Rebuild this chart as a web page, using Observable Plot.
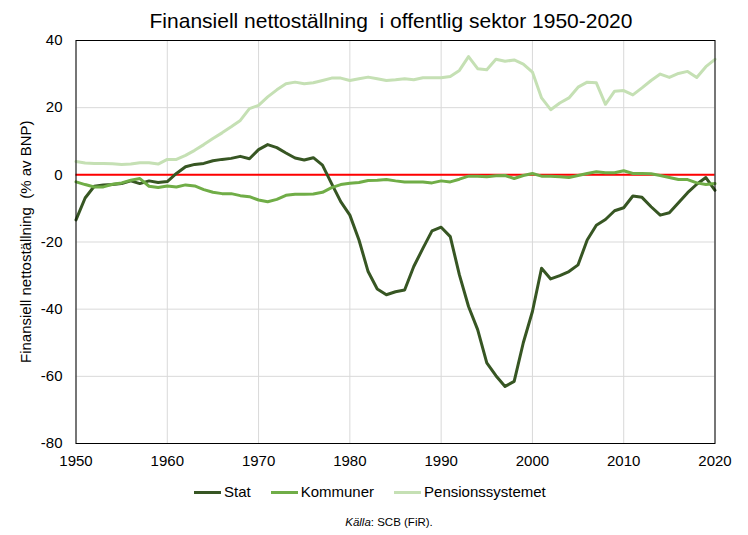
<!DOCTYPE html>
<html>
<head>
<meta charset="utf-8">
<script src="https://cdn.jsdelivr.net/npm/d3@7"></script>
<script src="https://cdn.jsdelivr.net/npm/@observablehq/plot@0.6"></script>
<style>
  html, body { margin: 0; padding: 0; background: #fff; }
  #wrap { position: relative; width: 748px; height: 535px; font-family: "Liberation Sans", Arial, sans-serif; color: #000; }
  #chart { position: absolute; left: 0; top: 0; }
  #title { position: absolute; left: 0; width: 782px; top: 9px; text-align: center; font-size: 21px; line-height: 24px; white-space: pre; }
  #ylabel { position: absolute; left: 0; top: 0; font-size: 15px; line-height: 18px; white-space: pre;
            transform-origin: 0 0; }
  #legend { position: absolute; left: 194px; top: 483px; display: flex; align-items: center; font-size: 15px; line-height: 18px; }
  .item { display: flex; align-items: center; margin-right: 20px; }
  .sw { width: 27px; height: 3px; margin-right: 3px; }
  #caption { position: absolute; left: 0; width: 778px; top: 515px; text-align: center; font-size: 11.5px; line-height: 14px; }
</style>
</head>
<body>
<div id="wrap">
  <div id="chart"></div>
  <div id="title">Finansiell nettoställning  i offentlig sektor 1950-2020</div>
  <div id="ylabel">Finansiell nettoställning  (% av BNP)</div>
  <div id="legend"></div>
  <div id="caption"><i>Källa</i>: SCB (FiR).</div>
</div>
<script>
const years = [1950,1951,1952,1953,1954,1955,1956,1957,1958,1959,
  1960,1961,1962,1963,1964,1965,1966,1967,1968,1969,
  1970,1971,1972,1973,1974,1975,1976,1977,1978,1979,
  1980,1981,1982,1983,1984,1985,1986,1987,1988,1989,
  1990,1991,1992,1993,1994,1995,1996,1997,1998,1999,
  2000,2001,2002,2003,2004,2005,2006,2007,2008,2009,
  2010,2011,2012,2013,2014,2015,2016,2017,2018,2019,2020];

const stat = [-13.4,-6.9,-3.4,-3.0,-2.9,-2.6,-1.8,-2.6,-1.8,-2.3,
  -2.0,0.4,2.4,3.1,3.4,4.2,4.6,4.9,5.5,4.8,
  7.5,9.0,8.1,6.5,5.0,4.4,5.1,2.9,-2.6,-8.0,
  -12.0,-19.4,-28.8,-34.0,-35.7,-34.8,-34.3,-27.3,-21.9,-16.7,
  -15.6,-18.4,-29.8,-39.2,-46.1,-56.0,-59.8,-63.0,-61.5,-50.0,
  -40.7,-27.8,-31.0,-30.0,-28.8,-26.8,-19.4,-15.0,-13.3,-10.7,
  -9.8,-6.3,-6.7,-9.5,-12.0,-11.3,-8.3,-5.3,-2.8,-0.8,-4.6];

const kommuner = [-2.1,-2.9,-3.6,-3.6,-2.8,-2.4,-1.6,-1.1,-3.4,-3.8,
  -3.3,-3.6,-3.0,-3.3,-4.4,-5.2,-5.6,-5.6,-6.2,-6.5,
  -7.5,-8.0,-7.3,-6.1,-5.8,-5.8,-5.7,-5.2,-3.8,-2.9,
  -2.5,-2.3,-1.7,-1.6,-1.4,-1.8,-2.1,-2.1,-2.1,-2.4,
  -1.8,-2.1,-1.3,-0.4,-0.4,-0.6,-0.3,-0.2,-1.1,-0.2,
  0.4,-0.4,-0.4,-0.6,-0.8,-0.2,0.4,0.9,0.6,0.6,
  1.2,0.4,0.4,0.3,-0.2,-0.8,-1.4,-1.4,-2.4,-2.9,-2.6];

const pension = [4.0,3.5,3.4,3.4,3.3,3.1,3.2,3.6,3.6,3.2,
  4.6,4.6,5.8,7.3,9.0,10.8,12.5,14.3,16.2,19.7,
  20.7,23.2,25.3,27.1,27.6,27.1,27.4,28.1,28.8,28.8,
  28.1,28.6,29.1,28.6,28.1,28.3,28.6,28.3,28.9,28.9,
  28.9,29.3,31.1,35.2,31.6,31.3,34.4,33.8,34.2,33.0,
  30.6,22.9,19.4,21.4,22.9,26.1,27.6,27.4,21.0,24.9,
  25.1,23.8,25.9,28.1,30.0,29.0,30.2,30.8,29.0,32.2,34.4];

const seriesNames = ["Stat", "Kommuner", "Pensionssystemet"];
const seriesColors = ["#375623", "#70ad47", "#c5e0b4"];
const xTicks = [1950,1960,1970,1980,1990,2000,2010,2020];
const yTicks = [-80,-60,-40,-20,0,20,40];

const seriesValues = [stat, kommuner, pension];
const rows = [];
seriesNames.forEach((name, i) => {
  years.forEach((yr, j) => rows.push({series: name, year: yr, value: seriesValues[i][j]}));
});

const W = 748, H = 475;
const mL = 75.5, mR = 33.5, mT = 40, mB = 32;

const chart = Plot.plot({
  width: W,
  height: H,
  marginLeft: mL,
  marginRight: mR,
  marginTop: mT,
  marginBottom: mB,
  style: {fontFamily: "'Liberation Sans', Arial, sans-serif", fontSize: "15px", color: "#000", background: "transparent", overflow: "visible"},
  x: {domain: [1950, 2020]},
  y: {domain: [-80, 40]},
  color: {domain: seriesNames, range: seriesColors},
  marks: [
    Plot.ruleX(xTicks, {stroke: "#d9d9d9", strokeWidth: 1}),
    Plot.ruleY(yTicks, {stroke: "#d9d9d9", strokeWidth: 1}),
    Plot.ruleY([0], {stroke: "#ff0000", strokeWidth: 2}),
    Plot.line(rows, {x: "year", y: "value", z: "series", stroke: "series", strokeWidth: 3, strokeLinejoin: "round", strokeLinecap: "round"}),
    Plot.frame({stroke: "#000", strokeWidth: 1}),
    Plot.axisX({ticks: xTicks, tickFormat: "d", tickSize: 0, tickPadding: 12, label: null, fill: "#000"}),
    Plot.axisY({ticks: yTicks, tickSize: 0, tickPadding: 13.5, label: null, fill: "#000", tickFormat: d => d < 0 ? "-" + Math.abs(d) : String(d)})
  ]
});
document.getElementById("chart").appendChild(chart);

// y label rotated
const yl = document.getElementById("ylabel");
const w = yl.offsetWidth;
const plotMid = (mT + (H - mB)) / 2;
yl.style.transform = `translate(17px, ${plotMid + w / 2}px) rotate(-90deg)`;

// legend
const lg = document.getElementById("legend");
seriesNames.forEach((n, i) => {
  const it = document.createElement("div");
  it.className = "item";
  const sw = document.createElement("div");
  sw.className = "sw";
  sw.style.background = seriesColors[i];
  const tx = document.createElement("span");
  tx.textContent = n;
  it.appendChild(sw); it.appendChild(tx);
  lg.appendChild(it);
});
</script>
</body>
</html>
